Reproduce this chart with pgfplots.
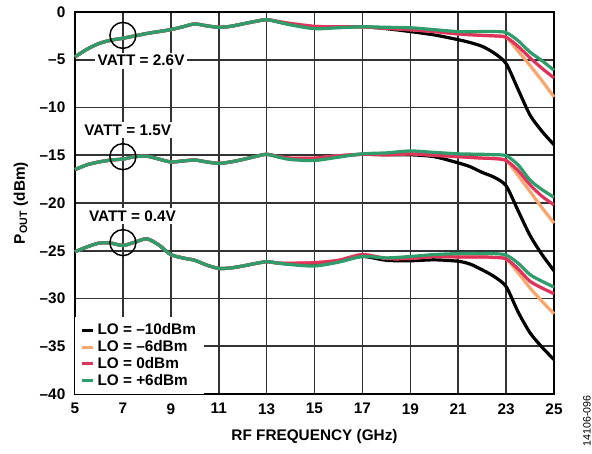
\documentclass[border=0pt]{standalone}
\usepackage{fontspec}
\setmainfont{Liberation Sans}
\usepackage{pgfplots}
\pgfplotsset{compat=1.18}
\definecolor{loblack}{RGB}{0,0,0}
\definecolor{loorange}{RGB}{249,165,110}
\definecolor{lored}{RGB}{224,51,92}
\definecolor{logreen}{RGB}{46,156,107}
\newcommand{\bfs}{\bfseries\fontsize{11.5}{13}\selectfont}
\begin{document}
\begin{tikzpicture}
\path[use as bounding box] (-56.25pt,-44.25pt) rectangle ++(444pt,339.75pt);
\begin{axis}[
  scale only axis, width=359.25pt, height=286.5pt,
  at={(0,0)}, anchor=south west,
  xmin=5, xmax=25, ymin=-40, ymax=0,
  xtick={5,7,...,25}, ytick={-40,-35,...,0},
  yticklabels={–40,–35,–30,–25,–20,–15,–10,–5,0},
  xticklabels={5,7,9,11,13,15,17,19,21,23,25},
  major tick length=0pt,
  tick label style={font=\bfs},
  xticklabel style={yshift=-3.5pt},
  yticklabel style={xshift=-3.75pt},
  grid=major,
  major grid style={black!80, line width=1.2pt},
  axis line style={black, line width=1.6pt},
  xlabel={RF FREQUENCY (GHz)},
  ylabel={P\textsubscript{OUT} (dBm)},
  label style={font=\bfs},
  xlabel style={at={(axis description cs:0.5,-0.112)}, anchor=center},
  ylabel style={at={(axis description cs:-0.113,0.5)}, anchor=center},
  every axis plot/.append style={line width=2.4pt, smooth, tension=0.45, no markers},
  legend style={at={(axis cs:5,-40)}, anchor=south west, draw=none, fill=white,
    font=\bfs, row sep=-1.3pt, inner xsep=4pt, inner ysep=3pt},
  legend cell align=left,
  legend image code/.code={\draw[#1, line width=2.2pt] (0pt,0pt) -- (8.5pt,0pt);},
  clip=false,
]
% ---------------- VATT = 2.6V ----------------
\addplot[loblack] coordinates {(5,-4.7)(5.5,-3.9)(6,-3.3)(6.5,-2.95)(7,-2.75)(7.5,-2.5)(8,-2.25)(8.5,-2.05)(9,-1.85)(9.5,-1.55)(10,-1.25)(10.5,-1.45)(11,-1.6)(11.5,-1.5)(12,-1.25)(12.5,-1.0)(13,-0.8)(13.5,-1.05)(14,-1.3)(15,-1.6)(16,-1.6)(17,-1.55)(18,-1.75)(19,-2.05)(20,-2.4)(21,-2.9)(21.5,-3.2)(22,-3.6)(22.5,-4.3)(23,-5.4)(23.5,-8.1)(24,-10.8)(24.5,-12.5)(25,-13.9)};
\addlegendentry{LO = –10dBm}
\addplot[loorange] coordinates {(5,-4.7)(5.5,-3.9)(6,-3.3)(6.5,-2.95)(7,-2.75)(7.5,-2.5)(8,-2.25)(8.5,-2.05)(9,-1.85)(9.5,-1.55)(10,-1.25)(10.5,-1.45)(11,-1.6)(11.5,-1.5)(12,-1.25)(12.5,-1.0)(13,-0.8)(13.5,-1.0)(14,-1.2)(15,-1.5)(16,-1.55)(17,-1.55)(18,-1.7)(19,-1.85)(20,-2.05)(21,-2.3)(22,-2.45)(22.5,-2.5)(23,-2.65)(23.5,-4.1)(24,-5.6)(24.5,-7.2)(25,-8.9)};
\addlegendentry{LO = –6dBm}
\addplot[lored] coordinates {(5,-4.7)(5.5,-3.9)(6,-3.3)(6.5,-2.95)(7,-2.75)(7.5,-2.5)(8,-2.25)(8.5,-2.05)(9,-1.85)(9.5,-1.55)(10,-1.25)(10.5,-1.45)(11,-1.6)(11.5,-1.5)(12,-1.25)(12.5,-1.0)(13,-0.8)(13.5,-1.0)(14,-1.2)(15,-1.5)(16,-1.55)(17,-1.55)(18,-1.7)(19,-1.85)(20,-2.05)(21,-2.3)(22,-2.45)(22.5,-2.5)(23,-2.65)(23.5,-3.6)(24,-4.8)(24.5,-5.9)(25,-6.9)};
\addlegendentry{LO = 0dBm}
\addplot[logreen] coordinates {(5,-4.7)(5.5,-3.9)(6,-3.3)(6.5,-2.95)(7,-2.75)(7.5,-2.5)(8,-2.25)(8.5,-2.05)(9,-1.85)(9.5,-1.55)(10,-1.25)(10.5,-1.45)(11,-1.6)(11.5,-1.5)(12,-1.25)(12.5,-1.0)(13,-0.8)(13.5,-1.05)(14,-1.35)(15,-1.75)(16,-1.65)(17,-1.55)(18,-1.6)(19,-1.65)(20,-1.85)(21,-2.05)(22,-2.05)(22.5,-2.05)(23,-2.15)(23.5,-3.0)(24,-4.2)(24.5,-5.1)(25,-6.1)};
\addlegendentry{LO = +6dBm}
% ---------------- VATT = 1.5V ----------------
\addplot[loblack] coordinates {(5,-16.5)(5.5,-16.0)(6,-15.7)(6.5,-15.5)(7,-15.4)(7.5,-15.15)(8,-15.1)(8.5,-15.4)(9,-15.7)(9.5,-15.6)(10,-15.5)(10.5,-15.7)(11,-15.85)(11.5,-15.7)(12,-15.45)(12.5,-15.15)(13,-14.9)(13.5,-15.15)(14,-15.35)(15,-15.4)(16,-15.1)(17,-14.9)(18,-14.95)(19,-14.95)(20,-15.15)(21,-15.8)(21.5,-16.2)(22,-16.8)(22.5,-17.3)(23,-18.2)(23.5,-20.8)(24,-23.4)(24.5,-25.4)(25,-27.1)};
\addplot[loorange] coordinates {(5,-16.5)(5.5,-16.0)(6,-15.7)(6.5,-15.5)(7,-15.4)(7.5,-15.15)(8,-15.1)(8.5,-15.4)(9,-15.7)(9.5,-15.6)(10,-15.5)(10.5,-15.7)(11,-15.85)(11.5,-15.7)(12,-15.45)(12.5,-15.15)(13,-14.9)(13.5,-15.15)(14,-15.3)(15,-15.3)(16,-15.05)(17,-14.9)(18,-14.95)(19,-14.85)(20,-15.0)(21,-15.15)(22,-15.3)(22.5,-15.35)(23,-15.55)(23.5,-17.1)(24,-18.8)(24.5,-20.5)(25,-22.1)};
\addplot[lored] coordinates {(5,-16.5)(5.5,-16.0)(6,-15.7)(6.5,-15.5)(7,-15.4)(7.5,-15.15)(8,-15.1)(8.5,-15.4)(9,-15.7)(9.5,-15.6)(10,-15.5)(10.5,-15.7)(11,-15.85)(11.5,-15.7)(12,-15.45)(12.5,-15.15)(13,-14.9)(13.5,-15.15)(14,-15.3)(15,-15.3)(16,-15.05)(17,-14.9)(18,-14.95)(19,-14.85)(20,-15.0)(21,-15.15)(22,-15.3)(22.5,-15.35)(23,-15.55)(23.5,-16.6)(24,-18.1)(24.5,-19.3)(25,-20.2)};
\addplot[logreen] coordinates {(5,-16.5)(5.5,-16.0)(6,-15.7)(6.5,-15.5)(7,-15.4)(7.5,-15.15)(8,-15.1)(8.5,-15.4)(9,-15.7)(9.5,-15.6)(10,-15.5)(10.5,-15.7)(11,-15.85)(11.5,-15.7)(12,-15.45)(12.5,-15.15)(13,-14.9)(13.5,-15.2)(14,-15.45)(15,-15.55)(16,-15.2)(17,-14.85)(18,-14.75)(19,-14.55)(20,-14.7)(21,-14.85)(22,-14.9)(22.5,-14.95)(23,-15.05)(23.5,-16.0)(24,-17.6)(24.5,-18.6)(25,-19.4)};
% ---------------- VATT = 0.4V ----------------
\addplot[loblack] coordinates {(5,-25.1)(5.5,-24.6)(6,-24.2)(6.5,-24.2)(7,-24.45)(7.5,-24.1)(8,-23.75)(8.5,-24.4)(9,-25.4)(9.5,-25.75)(10,-26.0)(10.5,-26.5)(11,-26.85)(11.5,-26.8)(12,-26.6)(12.5,-26.35)(13,-26.15)(13.5,-26.3)(14,-26.4)(15,-26.5)(16,-26.1)(17,-25.6)(18,-26.0)(19,-26.05)(20,-25.95)(21,-26.1)(21.5,-26.4)(22,-27.0)(22.5,-27.7)(23,-28.75)(23.5,-31.4)(24,-33.6)(24.5,-35.1)(25,-36.4)};
\addplot[loorange] coordinates {(5,-25.1)(5.5,-24.6)(6,-24.2)(6.5,-24.2)(7,-24.45)(7.5,-24.1)(8,-23.75)(8.5,-24.4)(9,-25.4)(9.5,-25.75)(10,-26.0)(10.5,-26.5)(11,-26.85)(11.5,-26.8)(12,-26.6)(12.5,-26.35)(13,-26.15)(13.5,-26.3)(14,-26.3)(15,-26.25)(16,-26.0)(17,-25.4)(18,-25.8)(19,-25.8)(20,-25.6)(21,-25.65)(22,-25.65)(22.5,-25.7)(23,-25.85)(23.5,-27.3)(24,-28.9)(24.5,-30.3)(25,-31.6)};
\addplot[lored] coordinates {(5,-25.1)(5.5,-24.6)(6,-24.2)(6.5,-24.2)(7,-24.45)(7.5,-24.1)(8,-23.75)(8.5,-24.4)(9,-25.4)(9.5,-25.75)(10,-26.0)(10.5,-26.5)(11,-26.85)(11.5,-26.8)(12,-26.6)(12.5,-26.35)(13,-26.15)(13.5,-26.3)(14,-26.3)(15,-26.25)(16,-26.0)(17,-25.4)(18,-25.8)(19,-25.8)(20,-25.6)(21,-25.65)(22,-25.65)(22.5,-25.7)(23,-25.85)(23.5,-26.9)(24,-28.2)(24.5,-28.9)(25,-29.5)};
\addplot[logreen] coordinates {(5,-25.1)(5.5,-24.6)(6,-24.2)(6.5,-24.2)(7,-24.45)(7.5,-24.1)(8,-23.75)(8.5,-24.4)(9,-25.4)(9.5,-25.75)(10,-26.0)(10.5,-26.5)(11,-26.85)(11.5,-26.8)(12,-26.6)(12.5,-26.35)(13,-26.15)(13.5,-26.3)(14,-26.45)(15,-26.6)(16,-26.2)(17,-25.6)(18,-25.75)(19,-25.6)(20,-25.4)(21,-25.3)(22,-25.3)(22.5,-25.3)(23,-25.45)(23.5,-26.3)(24,-27.5)(24.5,-28.2)(25,-28.8)};
% annotations
\draw[black, line width=1.1pt] (axis cs:7,-2.45) circle[radius=9.75pt];
\draw[black, line width=1.1pt] (axis cs:7,-15.15) circle[radius=9.75pt];
\draw[black, line width=1.1pt] (axis cs:7,-24.15) circle[radius=9.75pt];
\node[fill=white, font=\bfs, inner sep=2pt] at (axis cs:7.76,-5.1) {VATT = 2.6V};
\node[fill=white, font=\bfs, inner sep=2pt] at (axis cs:7.2,-12.4) {VATT = 1.5V};
\node[fill=white, font=\bfs, inner sep=2pt] at (axis cs:7.4,-21.4) {VATT = 0.4V};
\end{axis}
\node[rotate=90, font=\fontsize{8}{9}\selectfont] at (384pt,-20.25pt) {14106-096};
\end{tikzpicture}
\end{document}
